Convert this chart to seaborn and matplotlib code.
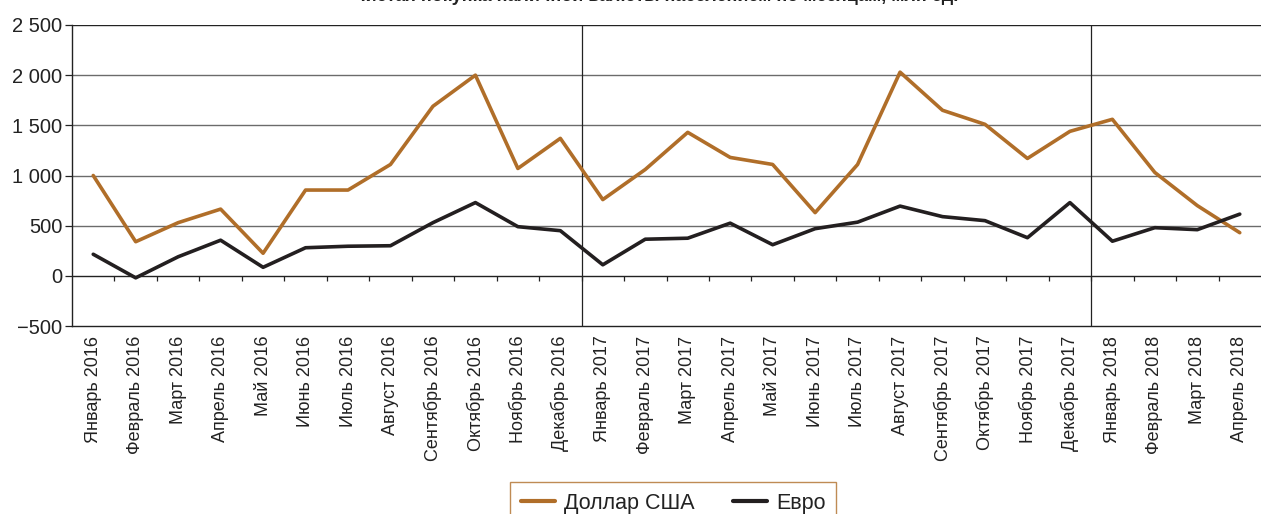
import matplotlib
matplotlib.use("Agg")
import matplotlib.pyplot as plt
import matplotlib.ticker as mticker
import numpy as np
import pandas as pd
import seaborn as sns

# ---------------------------------------------------------------------------
# Data
# ---------------------------------------------------------------------------
month_names = ["Январь", "Февраль", "Март", "Апрель", "Май", "Июнь",
               "Июль", "Август", "Сентябрь", "Октябрь", "Ноябрь", "Декабрь"]
years = [2016, 2017, 2018]
n_months = 28

usd = [1000, 340, 530, 665, 225, 855, 855, 1110, 1690, 2000, 1070, 1370,
       760, 1060, 1430, 1180, 1110, 630, 1110, 2030, 1650, 1510, 1170, 1440,
       1560, 1030, 700, 430]
eur = [215, -20, 190, 355, 85, 280, 295, 300, 530, 730, 490, 450,
       110, 365, 375, 525, 310, 470, 535, 695, 590, 550, 380, 730,
       345, 480, 460, 615]

series_names = ["Доллар США", "Евро"]
title = "Чистая покупка наличной валюты населением по месяцам, млн ед."

labels = [f"{month_names[i % 12]} {years[i // 12]}" for i in range(n_months)]

# ---------------------------------------------------------------------------
# Style
# ---------------------------------------------------------------------------
sns.set_theme(style="white")
plt.rcParams["font.family"] = ["Liberation Sans", "DejaVu Sans"]

USD_COLOUR = "#B06E29"
EUR_COLOUR = "#231F20"
GRID_COLOUR = "#6b6b6b"
INK = "#222222"

df = pd.DataFrame({
    "idx": list(range(n_months)) * 2,
    "value": usd + eur,
    "series": [series_names[0]] * n_months + [series_names[1]] * n_months,
})

fig = plt.figure(figsize=(12.61, 5.14), dpi=100)
ax = fig.add_axes([72 / 1261, 1 - 326 / 514, 1 - 72 / 1261, (326 - 25) / 514])

sns.lineplot(
    data=df, x="idx", y="value", hue="series",
    palette={series_names[0]: USD_COLOUR, series_names[1]: EUR_COLOUR},
    linewidth=2.6, legend=False, ax=ax,
)

ax.set_xlim(-0.5, n_months - 0.5)
ax.set_ylim(-500, 2500)

# Horizontal grid
for y in range(0, 2501, 500):
    ax.axhline(y, color=GRID_COLOUR if y not in (0, 2500) else INK,
               linewidth=1.0, zorder=0)

# Year separators
for b in (11.5, 23.5):
    ax.axvline(b, color=INK, linewidth=0.9, zorder=0)

# Category tick marks on the zero line
bounds = np.arange(0.5, n_months - 0.5, 1.0)
ax.vlines(bounds, -55, 0, color=INK, linewidth=0.9, zorder=0)

ax.set_xticks(range(n_months))
ax.set_xticklabels(labels, rotation=90, fontsize=13, color=INK)
ax.tick_params(axis="x", which="major", length=0, pad=7)
ax.set_xticks(bounds, minor=True)
ax.tick_params(axis="x", which="minor", length=6, width=0.9,
               color=INK, direction="out")

ax.yaxis.set_major_locator(mticker.MultipleLocator(500))
ax.yaxis.set_major_formatter(mticker.FuncFormatter(
    lambda v, _: f"{int(v):,}".replace(",", " ").replace("-", "−")))
ax.tick_params(axis="y", length=5, width=0.9, color=INK,
               labelsize=14.5, labelcolor=INK, pad=2, left=True)

for side in ("top", "right"):
    ax.spines[side].set_visible(False)
for side in ("left", "bottom"):
    ax.spines[side].set_color(INK)
    ax.spines[side].set_linewidth(1.0)

ax.set_xlabel("")
ax.set_ylabel("")

# Title, cut off at the top as in the reference
fig.text(0.52, 1 - 1 / 514, title, ha="center", va="baseline",
         fontsize=13, fontweight="bold", color=INK)

# Legend
handles = [plt.Line2D([], [], color=USD_COLOUR, linewidth=3),
           plt.Line2D([], [], color=EUR_COLOUR, linewidth=3)]
leg = fig.legend(handles, series_names, loc="upper center", ncol=2,
                 bbox_to_anchor=(673 / 1261, 1 - 482 / 514),
                 frameon=True, fancybox=False, fontsize=15.5,
                 handlelength=1.6, handletextpad=0.4, columnspacing=1.8,
                 borderpad=0.5, borderaxespad=0)
leg.get_frame().set_edgecolor(USD_COLOUR)
leg.get_frame().set_linewidth(1.0)
for t in leg.get_texts():
    t.set_color(INK)

fig.savefig("out.png", dpi=100)
